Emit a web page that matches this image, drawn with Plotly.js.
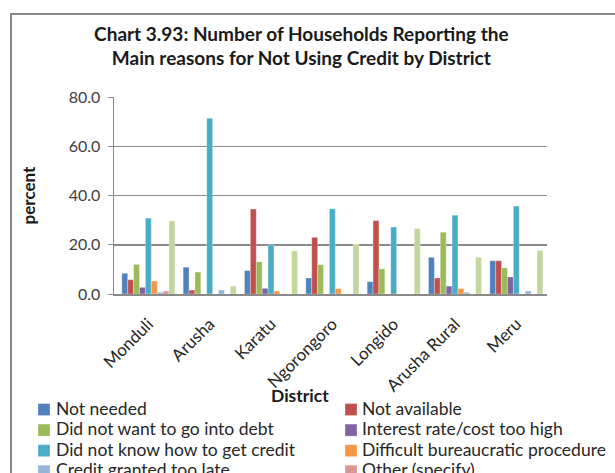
<!DOCTYPE html>
<html>
<head>
<meta charset="utf-8">
<script src="https://cdn.plot.ly/plotly-3.0.1.min.js"></script>
<style>
html,body{margin:0;padding:0;width:615px;height:473px;overflow:hidden;background:#fff;}
#chart{position:absolute;left:0;top:0;width:615px;height:540px;}
#frame{position:absolute;left:10px;top:13px;width:700px;height:600px;border-left:2px solid #8a8a8a;border-top:2px solid #8a8a8a;pointer-events:none;}
#chart .legend .scrollbox{clip-path:none !important;}
#chart .legendtext{font-size:17.5px !important;transform:translateX(-8px);}
#chart .legend .traces:nth-child(even) .legendtext{transform:translateX(27px);}
#chart .legend .traces:nth-child(even) .legendpoints{transform:translateX(36px);}
</style>
</head>
<body>
<div id="chart"></div>
<div id="frame"></div>
<script>
const districts = ["Monduli", "Arusha", "Karatu", "Ngorongoro", "Longido", "Arusha Rural", "Meru"];

const seriesNames = [
  "Not needed",
  "Not available",
  "Did not want to go into debt",
  "Interest rate/cost too high",
  "Did not know how to get credit",
  "Difficult bureaucratic procedure",
  "Credit granted too late",
  "Other (specify)",
  "Don't know"
];

const notNeeded      = [8.4, 10.9, 9.5, 6.5, 5.0, 14.9, 13.5];
const notAvailable   = [5.8, 1.6, 34.5, 23.0, 29.8, 6.5, 13.5];
const noDebt         = [12.0, 8.9, 13.1, 11.9, 10.2, 25.1, 10.6];
const interestHigh   = [2.7, 0, 2.3, 0, 0, 3.2, 6.9];
const didNotKnow     = [30.8, 71.4, 20.0, 34.6, 27.2, 32.0, 35.7];
const bureaucratic   = [5.3, 0, 1.2, 2.2, 0, 2.2, 0];
const grantedLate    = [0.7, 1.6, 0, 0, 0, 0.7, 1.2];
const otherSpecify   = [1.2, 0, 0, 0, 0, 0, 0];
const dontKnow       = [29.7, 3.2, 17.5, 20.3, 26.6, 14.9, 17.7];

const seriesValues = [notNeeded, notAvailable, noDebt, interestHigh, didNotKnow, bureaucratic, grantedLate, otherSpecify, dontKnow];
const colors = ["#4F81BD", "#C0504D", "#9BBB59", "#8064A2", "#4BACC6", "#F79646", "#95B3D7", "#D99694", "#C3D69B"];

const yTicks = [0, 20, 40, 60, 80];

const font = "Lato, 'Open Sans', sans-serif";
const H = 540;

const traces = seriesValues.map((vals, i) => ({
  type: "bar",
  name: seriesNames[i],
  x: districts,
  y: vals,
  marker: {color: colors[i], line: {color: "rgba(255,255,255,0.6)", width: 0.5}},
  hoverinfo: "x+y+name"
}));

const layout = {
  width: 615,
  height: H,
  margin: {l: 114, r: 68, t: 97, b: H - 294},
  paper_bgcolor: "#fff",
  plot_bgcolor: "#fff",
  font: {family: font, color: "#262626"},
  title: {
    text: "<b>Chart 3.93: Number of Households Reporting the<br>Main reasons for Not Using Credit by District</b>",
    font: {family: font, size: 19, color: "#1a1a1a"},
    x: 0.49, xanchor: "center",
    y: 1 - 40.5 / H, yanchor: "top"
  },
  barmode: "group",
  bargap: 0.135,
  bargroupgap: 0,
  xaxis: {
    type: "category",
    range: [-0.56, 6.5],
    tickangle: -45,
    tickfont: {family: font, size: 17, color: "#262626"},
    ticklabelstandoff: 12,
    showline: true,
    linecolor: "#8a8a8a",
    linewidth: 1.5,
    ticks: "",
    showgrid: false,
    automargin: false
  },
  yaxis: {
    range: [0, 80],
    tickvals: yTicks,
    tickformat: ".1f",
    tickfont: {family: font, size: 16, color: "#404040"},
    ticklabelstandoff: 4,
    showline: true,
    linecolor: "#8a8a8a",
    linewidth: 1.5,
    ticks: "outside",
    ticklen: 5,
    tickcolor: "#8a8a8a",
    gridcolor: "#8a8a8a",
    gridwidth: 1.5,
    zeroline: false,
    title: {text: "<b>percent</b>", font: {family: font, size: 17, color: "#1a1a1a"}, standoff: 28},
    automargin: false
  },
  annotations: [{
    text: "<b>District</b>",
    xref: "paper", yref: "paper",
    x: (300 - 114) / 433, y: -(395 - 294) / 197,
    xanchor: "center", yanchor: "middle",
    showarrow: false,
    font: {family: font, size: 17.5, color: "#1a1a1a"}
  }],
  showlegend: true,
  legend: {
    orientation: "h",
    x: (24 - 114) / 433, xanchor: "left",
    y: -0.509, yanchor: "top",
    entrywidth: 226,
    entrywidthmode: "pixels",
    font: {family: font, size: 13.5, color: "#262626"},
    traceorder: "normal",
    itemclick: false,
    bgcolor: "rgba(0,0,0,0)"
  }
};

Plotly.newPlot("chart", traces, layout, {displayModeBar: false, staticPlot: true});
</script>
</body>
</html>
